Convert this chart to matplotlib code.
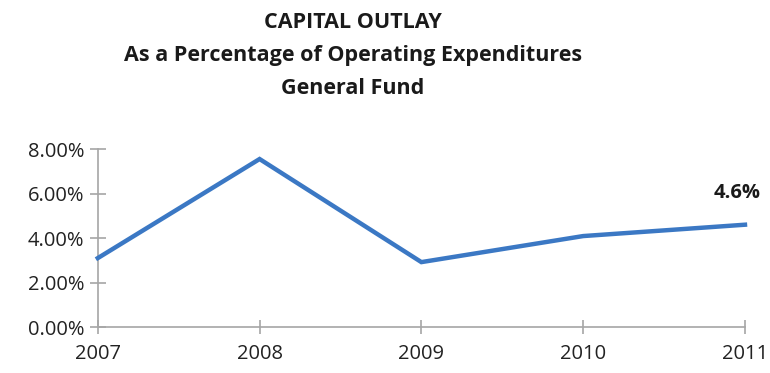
import matplotlib
matplotlib.use("Agg")
import matplotlib.pyplot as plt
from matplotlib.ticker import FuncFormatter

years = [2007, 2008, 2009, 2010, 2011]
pct_of_opex = [3.1, 7.55, 2.92, 4.09, 4.6]
title_lines = ["CAPITAL OUTLAY",
               "As a Percentage of Operating Expenditures",
               "General Fund"]

plt.rcParams["font.family"] = ["Open Sans", "DejaVu Sans"]

fig = plt.figure(figsize=(7.7, 3.73), dpi=100)
ax = fig.add_axes([0.127, 0.123, 0.8405, 0.4775])

line_color = "#3b78c4"
axis_color = "#a6a6a6"

ax.plot(years, pct_of_opex, color=line_color, lw=3.2, solid_joinstyle="miter",
        clip_on=False, zorder=3)

# last value label
ax.annotate(f"{pct_of_opex[-1]:.1f}%", xy=(years[-1], pct_of_opex[-1]),
            xytext=(-6, 23), textcoords="offset points", ha="center",
            va="center", fontsize=14.5, fontweight="bold", color="#1a1a1a")

ax.set_xlim(years[0], years[-1])
ax.set_ylim(0, 8)
ax.set_xticks(years)
ax.set_yticks([0, 2, 4, 6, 8])
ax.yaxis.set_major_formatter(FuncFormatter(lambda v, _: f"{v:.2f}%"))

for side in ("top", "right"):
    ax.spines[side].set_visible(False)
for side in ("left", "bottom"):
    ax.spines[side].set_color(axis_color)
    ax.spines[side].set_linewidth(1.2)

ax.tick_params(axis="y", direction="inout", length=11, width=1.2,
               color=axis_color, labelsize=14.5, labelcolor="#222222", pad=4)
ax.tick_params(axis="x", direction="inout", length=10, width=1.2,
               color=axis_color, labelsize=14.5, labelcolor="#222222", pad=7)
for t in ax.xaxis.get_major_ticks() + ax.yaxis.get_major_ticks():
    t.tick1line.set_clip_on(False)

for i, txt in enumerate(title_lines):
    fig.text(0.458, 1 - (22 + 33 * i) / 373, txt, ha="center", va="center",
             fontsize=15.5, fontweight="bold", color="#1a1a1a")

fig.savefig("out.png", dpi=100)
